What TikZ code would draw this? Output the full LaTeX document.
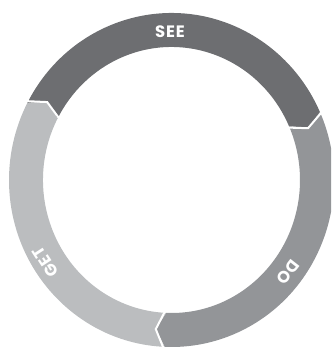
\documentclass[tikz,border=0pt]{standalone}
\usepackage{fontspec}
\setsansfont{Poppins}
\definecolor{seec}{HTML}{6D6E71}
\definecolor{doc}{HTML}{939598}
\definecolor{getc}{HTML}{BBBDBF}
\newcommand\ORX{162.5}\newcommand\ORY{167}
\newcommand\IRX{128.5}\newcommand\IRY{133}
\newcommand\MRX{145.5}\newcommand\MRY{150}
\newcommand\OORX{166}\newcommand\OORY{171}
\newcommand\IIRX{125}\newcommand\IIRY{129}
\newcommand\tipoff{3.8}
% #1 colour, #2 trailing angle, #3 leading angle (clockwise)
\newcommand\ringseg[3]{%
  \fill[#1] (#2:\ORX pt and \ORY pt)
    arc[start angle=#2, end angle=#3, x radius=\ORX pt, y radius=\ORY pt]
    -- ({#3-\tipoff}:\MRX pt and \MRY pt)
    -- (#3:\IRX pt and \IRY pt)
    arc[start angle=#3, end angle=#2, x radius=\IRX pt, y radius=\IRY pt]
    -- ({#2-\tipoff}:\MRX pt and \MRY pt) -- cycle;}
\newcommand\ringgap[1]{%
  \draw[gapline] (#1:\OORX pt and \OORY pt)
    -- ({#1-\tipoff}:\MRX pt and \MRY pt)
    -- (#1:\IIRX pt and \IIRY pt);}
\tikzset{
  lbl/.style={font=\sffamily\bfseries\fontsize{16.5}{16.5}\selectfont, text=white, inner sep=0pt},
  gapline/.style={white, line width=2pt, line join=miter}
}
\begin{document}
\begin{tikzpicture}[x=1pt,y=1pt]
\useasboundingbox (-171.5,-172) rectangle (159.5,180);
\clip (-171.5,-172) rectangle (159.5,180);
\ringseg{seec}{152.5}{24}
\ringseg{doc}{24}{-92.4}
\ringseg{getc}{267.6}{152.5}
\ringgap{152.5}
\ringgap{24}
\ringgap{-92.4}
\node[lbl] (see) at (-1.5,148) {S\kern0.8pt E\kern0.8pt E};
\node[lbl, rotate=123] (get) at (-126,-82) {G\kern0.8pt E\kern0.8pt T};
\node[lbl, rotate=-128] (do) at (116.5,-92) {D\kern0.8pt O};
\end{tikzpicture}
\end{document}
